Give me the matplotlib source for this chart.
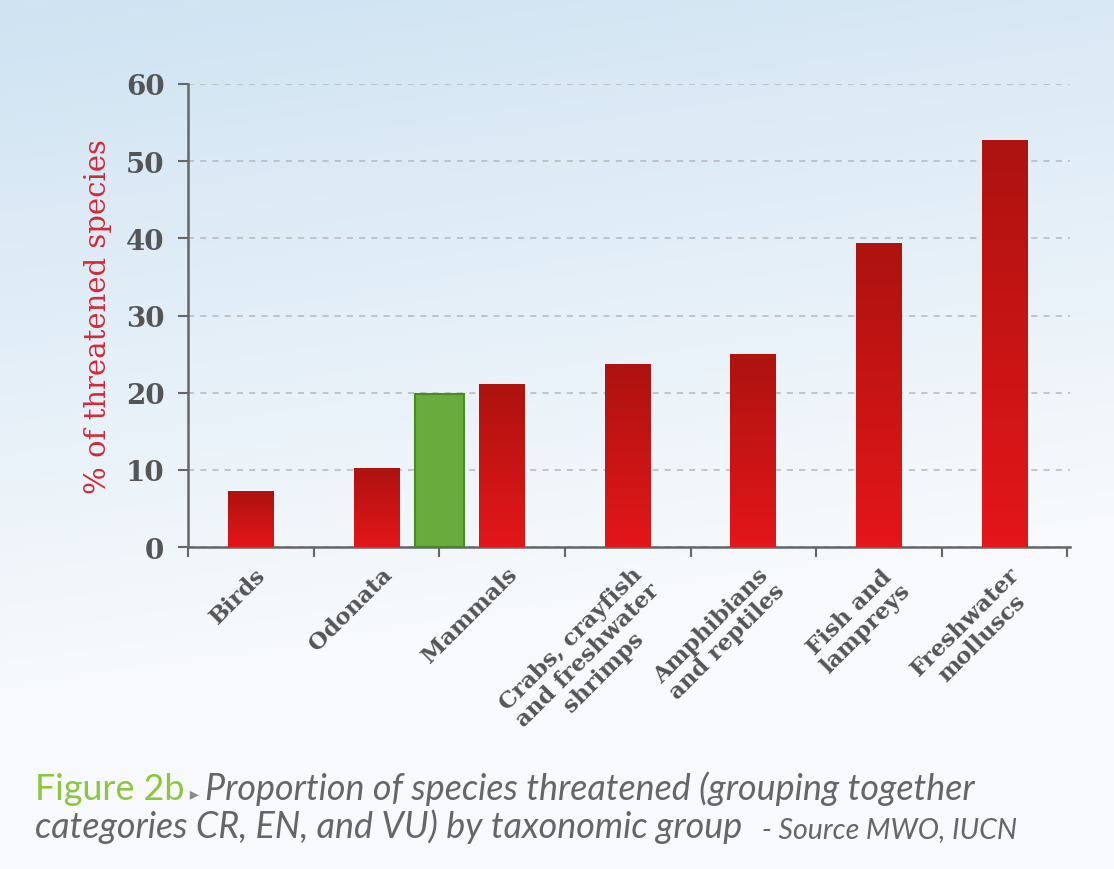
import numpy as np
import matplotlib.pyplot as plt
import matplotlib.transforms as mtransforms
from matplotlib.colors import LinearSegmentedColormap

# data
categories = ["Birds", "Odonata", "Mammals",
              "Crabs, crayfish\nand freshwater\nshrimps",
              "Amphibians\nand reptiles", "Fish and\nlampreys",
              "Freshwater\nmolluscs"]
threatened_pct = [7.3, 10.3, 21.1, 23.7, 25.0, 39.4, 52.8]
highlight_after = "Odonata"   # green bar sits between this group and the next
highlight_pct = 19.8
y_ticks = [0, 10, 20, 30, 40, 50, 60]

caption_1 = ["Figure 2b", " \u25b8 ", "Proportion of species threatened (grouping together"]
caption_2 = ["categories CR, EN, and VU) by taxonomic group", "   - Source MWO, IUCN"]

SERIF = ["DejaVu Serif"]
CAPTION_FONT = ["Lato", "DejaVu Sans"]
RED_CMAP = LinearSegmentedColormap.from_list("bar", ["#ad130f", "#e3161a"])

fig = plt.figure(figsize=(11.14, 8.7), dpi=100)

# background: pale blue wash fading to near white
bg = fig.add_axes([0, 0, 1, 1], zorder=-10)
yy, xx = np.mgrid[0:1:200j, 0:1:200j]
blue = np.array([0.81, 0.89, 0.95])
white = np.array([0.97, 0.98, 0.99])
mix = np.clip(yy * 1.25 + xx * 0.25, 0, 1)[..., None]
bg.imshow(blue * (1 - mix) + white * mix, aspect="auto", extent=[0, 1, 1, 0])
bg.set_axis_off()

ax = fig.add_axes([0.1688, 0.3701, 0.7917, 0.5322])
ax.patch.set_alpha(0)

x = np.arange(len(categories))
bars = ax.bar(x, threatened_pct, width=0.365, color="#c8141a", zorder=3)

# gradient fill clipped to each red bar
grad = np.linspace(0, 1, 64).reshape(-1, 1)
for b in bars:
    bx, by, bw, bh = b.get_x(), b.get_y(), b.get_width(), b.get_height()
    im = ax.imshow(grad, cmap=RED_CMAP, aspect="auto", zorder=4,
                   extent=[bx, bx + bw, by, by + bh], origin="upper")
    im.set_clip_path(b)

i = categories.index(highlight_after)
ax.bar((x[i] + x[i + 1]) / 2, highlight_pct, width=0.39, color="#6aab3e",
       edgecolor="#4b8a27", linewidth=1.5, zorder=5)

ax.set_xlim(-0.5, 6.52)
ax.set_ylim(0, 60)
ax.set_yticks(y_ticks)
ax.set_yticklabels([str(t) for t in y_ticks], family=SERIF, fontsize=20,
                   color="#555555", fontweight="bold")
ax.yaxis.grid(True, linestyle=(0, (4, 4)), color="#b4b8bc", linewidth=1.1, zorder=0)
ax.set_axisbelow(True)

ax.set_xticks(np.arange(-0.5, 7, 1))
ax.set_xticklabels([])
ax.set_xticks(x, minor=True)
ax.set_xticklabels(categories, minor=True, family=SERIF, fontsize=16.5,
                   color="#555555", fontweight="bold", rotation=45,
                   ha="right", va="top", rotation_mode="anchor",
                   multialignment="center", linespacing=1.05)
ax.tick_params(axis="x", which="minor", length=0, pad=0)
offset = mtransforms.ScaledTranslation(4 / 100, -16 / 100, fig.dpi_scale_trans)
for lab in ax.get_xticklabels(minor=True):
    lab.set_transform(lab.get_transform() + offset)

ax.tick_params(axis="both", which="major", length=7, width=1.5, color="#666666")
ax.tick_params(axis="y", pad=10)
for side in ["top", "right"]:
    ax.spines[side].set_visible(False)
for side in ["left", "bottom"]:
    ax.spines[side].set_color("#666666")
    ax.spines[side].set_linewidth(1.8)

ax.set_ylabel("% of threatened species", family=SERIF, fontsize=21,
              color="#d02a38", labelpad=10)


def write_line(parts, styles, x0, y0):
    # put text pieces one after the other on one baseline
    renderer = fig.canvas.get_renderer()
    xpos = x0
    for txt, st in zip(parts, styles):
        t = fig.text(xpos, y0, txt, va="baseline", ha="left", **st)
        ext = t.get_window_extent(renderer)
        xpos += ext.width / fig.bbox.width


green = dict(family=CAPTION_FONT, fontsize=25.8, color="#8cc63e")
arrow = dict(family=["DejaVu Sans"], fontsize=13, color="#8a8a8a")
body = dict(family=CAPTION_FONT, fontsize=25.8, color="#666666", style="italic")
small = dict(family=CAPTION_FONT, fontsize=20.5, color="#666666", style="italic")

fig.canvas.draw()
write_line(caption_1, [green, arrow, body], 35 / 1114, 1 - 800 / 870)
write_line(caption_2, [body, small], 35 / 1114, 1 - 838 / 870)

fig.savefig("out.png", dpi=100)
